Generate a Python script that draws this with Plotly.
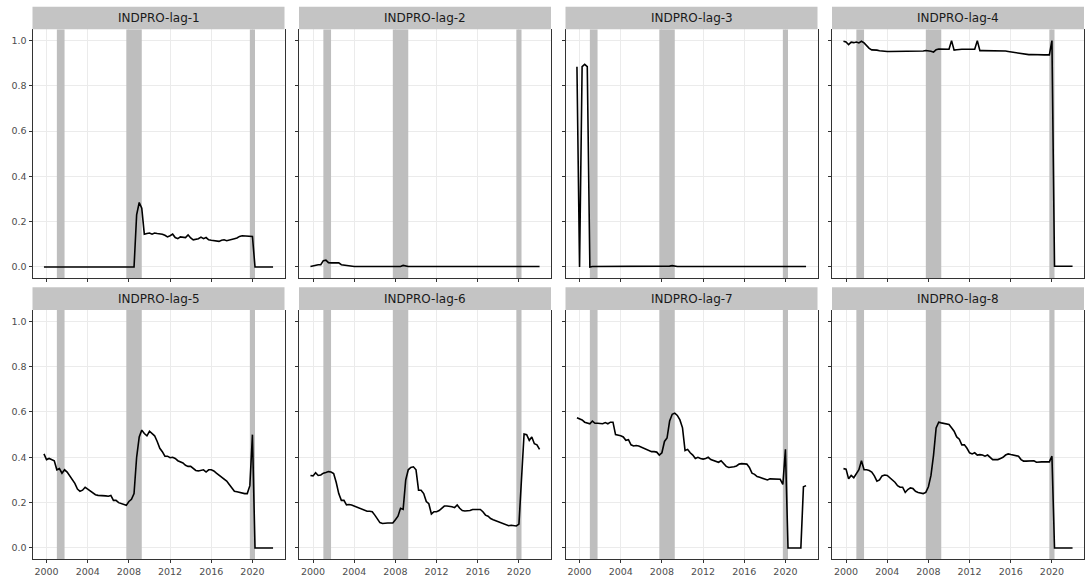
import pandas as pd
import plotly.graph_objects as go

# Quarterly observation dates, Q4 1999 through Q1 2022
dates = pd.date_range("1999-10-01", "2022-01-01", freq="QS")

panel_titles = [f"INDPRO-lag-{i}" for i in range(1, 9)]

# Each row after the first value covers one calendar year (Q1..Q4); last value is 2022 Q1
lag1 = [0.0,
        0.0, 0.0, 0.0, 0.0,
        0.0, 0.0, 0.0, 0.0,
        0.0, 0.0, 0.0, 0.0,
        0.0, 0.0, 0.0, 0.0,
        0.0, 0.0, 0.0, 0.0,
        0.0, 0.0, 0.0, 0.0,
        0.0, 0.0, 0.0, 0.0,
        0.0, 0.0, 0.0, 0.0,
        0.0, 0.0, 0.0, 0.23,
        0.285, 0.26, 0.145, 0.148,
        0.15, 0.145, 0.15, 0.148,
        0.148, 0.145, 0.14, 0.133,
        0.138, 0.145, 0.13, 0.125,
        0.133, 0.13, 0.13, 0.142,
        0.128, 0.12, 0.122, 0.125,
        0.132, 0.125, 0.13, 0.12,
        0.118, 0.116, 0.113, 0.113,
        0.118, 0.12, 0.116, 0.118,
        0.122, 0.125, 0.128, 0.135,
        0.138, 0.137, 0.137, 0.136,
        0.135, 0.0, 0.0, 0.0,
        0.0, 0.0, 0.0, 0.0,
        0.0]

lag2 = [0.002,
        0.005, 0.01, 0.01, 0.01,
        0.028, 0.03, 0.019, 0.018,
        0.018, 0.018, 0.018, 0.01,
        0.008, 0.005, 0.003, 0.002,
        0.002, 0.002, 0.002, 0.002,
        0.002, 0.002, 0.002, 0.002,
        0.002, 0.002, 0.002, 0.002,
        0.002, 0.002, 0.002, 0.002,
        0.002, 0.002, 0.002, 0.007,
        0.003, 0.002, 0.002, 0.002,
        0.002, 0.002, 0.002, 0.002,
        0.002, 0.002, 0.002, 0.002,
        0.002, 0.002, 0.002, 0.002,
        0.002, 0.002, 0.002, 0.002,
        0.002, 0.002, 0.002, 0.002,
        0.002, 0.002, 0.002, 0.002,
        0.002, 0.002, 0.002, 0.002,
        0.002, 0.002, 0.002, 0.002,
        0.002, 0.002, 0.002, 0.002,
        0.002, 0.002, 0.002, 0.002,
        0.002, 0.002, 0.002, 0.002,
        0.002, 0.002, 0.002, 0.002,
        0.002]

lag3 = [0.885,
        0.0, 0.885, 0.895, 0.885,
        0.0, 0.002, 0.002, 0.002,
        0.002, 0.002, 0.002, 0.002,
        0.002, 0.002, 0.002, 0.002,
        0.002, 0.002, 0.002, 0.002,
        0.002, 0.002, 0.002, 0.002,
        0.002, 0.002, 0.002, 0.002,
        0.002, 0.002, 0.002, 0.002,
        0.002, 0.002, 0.002, 0.004,
        0.006, 0.003, 0.002, 0.002,
        0.002, 0.002, 0.002, 0.002,
        0.002, 0.002, 0.002, 0.002,
        0.002, 0.002, 0.002, 0.002,
        0.002, 0.002, 0.002, 0.002,
        0.002, 0.002, 0.002, 0.002,
        0.002, 0.002, 0.002, 0.002,
        0.002, 0.002, 0.002, 0.002,
        0.002, 0.002, 0.002, 0.002,
        0.002, 0.002, 0.002, 0.002,
        0.002, 0.002, 0.002, 0.002,
        0.002, 0.002, 0.002, 0.002,
        0.002, 0.002, 0.002, 0.002,
        0.002]

lag4 = [0.997,
        0.994, 0.982, 0.993, 0.991,
        0.994, 0.99, 0.997, 0.99,
        0.978, 0.966, 0.959, 0.959,
        0.958, 0.955, 0.953, 0.952,
        0.952, 0.952, 0.952, 0.952,
        0.952, 0.952, 0.952, 0.952,
        0.951, 0.952, 0.952, 0.952,
        0.953, 0.954, 0.954, 0.956,
        0.955, 0.953, 0.949, 0.96,
        0.963, 0.963, 0.963, 0.96,
        0.962, 1.0, 0.958, 0.96,
        0.962, 0.962, 0.962, 0.962,
        0.962, 0.961, 0.962, 1.0,
        0.956, 0.956, 0.956, 0.956,
        0.956, 0.955, 0.955, 0.955,
        0.957, 0.956, 0.954, 0.952,
        0.95, 0.948, 0.946, 0.944,
        0.941, 0.939, 0.938, 0.938,
        0.939, 0.938, 0.938, 0.937,
        0.937, 0.937, 0.937, 0.937,
        1.0, 0.003, 0.003, 0.003,
        0.003, 0.003, 0.003, 0.003,
        0.003]

lag5 = [0.415,
        0.39, 0.395, 0.39, 0.385,
        0.345, 0.35, 0.33, 0.345,
        0.335, 0.32, 0.305, 0.285,
        0.26, 0.25, 0.255, 0.268,
        0.26, 0.252, 0.245, 0.235,
        0.232, 0.232, 0.23, 0.23,
        0.228, 0.232, 0.21, 0.21,
        0.2, 0.195, 0.19, 0.188,
        0.205, 0.215, 0.24, 0.40,
        0.49, 0.52, 0.505, 0.495,
        0.515, 0.505, 0.495, 0.47,
        0.44, 0.425, 0.405, 0.405,
        0.398, 0.4, 0.395, 0.385,
        0.38, 0.375, 0.365, 0.36,
        0.36, 0.352, 0.342, 0.34,
        0.342, 0.345, 0.335, 0.345,
        0.345, 0.34, 0.33, 0.322,
        0.312, 0.305, 0.295, 0.28,
        0.265, 0.25, 0.248, 0.245,
        0.243, 0.24, 0.24, 0.275,
        0.5, 0.0, 0.0, 0.0,
        0.0, 0.0, 0.0, 0.0,
        0.0]

lag6 = [0.32,
        0.318, 0.332, 0.32, 0.322,
        0.33, 0.333, 0.337, 0.335,
        0.328, 0.29, 0.24, 0.21,
        0.21, 0.19, 0.192, 0.19,
        0.185, 0.18, 0.175, 0.17,
        0.165, 0.162, 0.162, 0.16,
        0.145, 0.13, 0.112, 0.108,
        0.11, 0.11, 0.11, 0.11,
        0.125, 0.14, 0.175, 0.17,
        0.3, 0.345, 0.355, 0.358,
        0.345, 0.255, 0.255, 0.24,
        0.205, 0.195, 0.15, 0.16,
        0.16, 0.165, 0.175, 0.185,
        0.185, 0.185, 0.182, 0.178,
        0.19, 0.175, 0.165, 0.163,
        0.163, 0.165, 0.17, 0.17,
        0.168, 0.17, 0.16, 0.145,
        0.14, 0.13, 0.125, 0.12,
        0.118, 0.112, 0.108, 0.1,
        0.098, 0.1, 0.098, 0.097,
        0.105, 0.3, 0.503, 0.5,
        0.475, 0.49, 0.46, 0.455,
        0.435]

lag7 = [0.575,
        0.57, 0.565, 0.555, 0.55,
        0.548, 0.56, 0.55, 0.55,
        0.55, 0.548, 0.553, 0.548,
        0.555, 0.555, 0.5, 0.498,
        0.495, 0.49, 0.475, 0.478,
        0.455, 0.45, 0.452, 0.45,
        0.445, 0.44, 0.432, 0.428,
        0.425, 0.425, 0.423, 0.41,
        0.42, 0.47, 0.485, 0.56,
        0.59, 0.595, 0.585, 0.565,
        0.53, 0.43, 0.435, 0.42,
        0.41, 0.395, 0.4, 0.395,
        0.392, 0.395, 0.4, 0.39,
        0.385, 0.38, 0.378, 0.385,
        0.37, 0.36, 0.355, 0.355,
        0.358, 0.362, 0.37, 0.372,
        0.372, 0.37, 0.355, 0.33,
        0.325, 0.315, 0.312, 0.308,
        0.303, 0.3, 0.305, 0.305,
        0.303, 0.303, 0.303, 0.28,
        0.435, 0.0, 0.0, 0.0,
        0.0, 0.0, 0.0, 0.27,
        0.275]

lag8 = [0.35,
        0.348, 0.305, 0.32, 0.31,
        0.325, 0.345, 0.385, 0.345,
        0.345, 0.342, 0.335, 0.318,
        0.295, 0.3, 0.318, 0.322,
        0.32, 0.31, 0.3, 0.29,
        0.275, 0.268, 0.268, 0.245,
        0.258, 0.265, 0.262, 0.25,
        0.245, 0.243, 0.24, 0.245,
        0.27, 0.32, 0.41, 0.53,
        0.555, 0.552, 0.55, 0.545,
        0.545, 0.53, 0.515, 0.49,
        0.48, 0.455, 0.455, 0.44,
        0.42, 0.415, 0.42, 0.41,
        0.412, 0.41, 0.405, 0.41,
        0.4, 0.39, 0.39, 0.39,
        0.395, 0.4, 0.41, 0.415,
        0.412, 0.41, 0.408, 0.405,
        0.39, 0.383, 0.383, 0.383,
        0.385, 0.385, 0.378, 0.38,
        0.38, 0.38, 0.38, 0.38,
        0.405, 0.0, 0.0, 0.0,
        0.0, 0.0, 0.0, 0.0,
        0.0]

series = [lag1, lag2, lag3, lag4, lag5, lag6, lag7, lag8]

# Recession periods (quarter-start dates)
rec_start = ["2001-01-01", "2007-10-01", "2019-10-01"]
rec_end = ["2001-10-01", "2009-04-01", "2020-04-01"]

y_ticks = [0.0, 0.2, 0.4, 0.6, 0.8, 1.0]
y_range = [-0.05, 1.05]
x_tick_years = [2000, 2004, 2008, 2012, 2016, 2020]

# ---- page geometry (pixels) ----
W, H = 1086, 581
col_px = [(32.5, 284.5), (299, 551), (565.5, 817.5), (832, 1084)]
row_plot_px = [(29.3, 278.3), (310.0, 559.3)]
row_strip_px = [(6.7, 29.3), (287.3, 310.0)]

def fx(px):
    return px / W

def fy(py):
    return 1 - py / H

span = dates[-1] - dates[0]
x_range = [dates[0] - 0.05 * span, dates[-1] + 0.05 * span]
x_tickvals = [pd.Timestamp(f"{y}-01-01") for y in x_tick_years]

# Recession bands as closed polygons spanning the full y range
band_x, band_y = [], []
for s, e in zip(rec_start, rec_end):
    band_x += [s, s, e, e, s, None]
    band_y += [y_range[0], y_range[1], y_range[1], y_range[0], y_range[0], None]

AXIS_COL = "#333333"
GRID_COL = "#ebebeb"
TICK_FONT = dict(family="DejaVu Sans", size=9.5, color="#4d4d4d")

fig = go.Figure()
shapes = []
annotations = []

for k, (title, vals) in enumerate(zip(panel_titles, series)):
    r, c = divmod(k, 4)
    n = k + 1
    xa = "x" if n == 1 else f"x{n}"
    ya = "y" if n == 1 else f"y{n}"
    xkey = "xaxis" if n == 1 else f"xaxis{n}"
    ykey = "yaxis" if n == 1 else f"yaxis{n}"

    fig.add_trace(go.Scatter(
        x=band_x, y=band_y, mode="lines", fill="toself",
        fillcolor="#bebebe", line=dict(width=0, color="#bebebe"),
        xaxis=xa, yaxis=ya, showlegend=False, hoverinfo="skip",
    ))
    fig.add_trace(go.Scatter(
        x=dates, y=vals, mode="lines",
        line=dict(color="black", width=1.6),
        xaxis=xa, yaxis=ya, showlegend=False,
        hoverinfo="x+y",
    ))

    x0, x1 = col_px[c]
    top, bot = row_plot_px[r]
    fig.layout[xkey] = dict(
        domain=[fx(x0), fx(x1)], anchor=ya, type="date",
        range=x_range, tickvals=x_tickvals, tickformat="%Y",
        showticklabels=(r == 1), ticks="outside", ticklen=3,
        tickcolor=AXIS_COL, tickwidth=1, tickfont=TICK_FONT,
        showgrid=True, gridcolor=GRID_COL, gridwidth=1,
        showline=True, linecolor=AXIS_COL, linewidth=1, mirror=False,
        zeroline=False, automargin=False, fixedrange=True,
    )
    fig.layout[ykey] = dict(
        domain=[fy(bot), fy(top)], anchor=xa,
        range=y_range, tickvals=y_ticks, ticktext=[f"{v:.1f}" for v in y_ticks],
        showticklabels=(c == 0), ticks="outside", ticklen=3,
        tickcolor=AXIS_COL, tickwidth=1, tickfont=TICK_FONT,
        showgrid=True, gridcolor=GRID_COL, gridwidth=1,
        showline=True, linecolor=AXIS_COL, linewidth=1, mirror=True,
        zeroline=False, automargin=False, fixedrange=True,
    )

    # facet strip
    s_top, s_bot = row_strip_px[r]
    shapes.append(dict(
        type="rect", xref="paper", yref="paper",
        x0=fx(x0), x1=fx(x1), y0=fy(s_bot), y1=fy(s_top),
        fillcolor="#c4c4c4", line=dict(width=0), layer="above",
    ))
    annotations.append(dict(
        text=title, xref="paper", yref="paper",
        x=fx((x0 + x1) / 2), y=fy((s_top + s_bot) / 2),
        xanchor="center", yanchor="middle", showarrow=False,
        font=dict(family="DejaVu Sans", size=12, color="#1a1a1a"),
    ))

fig.update_layout(
    width=W, height=H,
    margin=dict(l=0, r=0, t=0, b=0),
    paper_bgcolor="white", plot_bgcolor="white",
    shapes=shapes, annotations=annotations,
    showlegend=False,
)

fig.write_html("out.html")
